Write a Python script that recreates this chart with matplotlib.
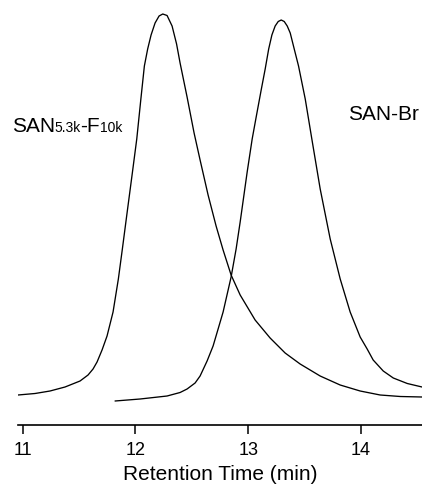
import matplotlib
matplotlib.use("Agg")
import matplotlib.pyplot as plt

plt.rcParams['font.family'] = ['Liberation Sans', 'DejaVu Sans']

# SAN5.3k-F10k trace (retention time in min, detector signal in a.u.)
t_saf = [10.9601, 11.1108, 11.2438, 11.3768, 11.5098, 11.5807, 11.6250, 11.6605,
         11.7048, 11.7491, 11.8023, 11.8493, 11.8848, 11.9229, 11.9743, 12.0124,
         12.0488, 12.0798, 12.1090, 12.1392, 12.1746, 12.2101, 12.2429, 12.2810,
         12.3254, 12.3652, 12.3963, 12.4583, 12.5204, 12.5736, 12.6445, 12.7154,
         12.7775, 12.8484, 12.9287, 13.0612, 13.1941, 13.3271, 13.4601, 13.6374,
         13.8147, 13.9920, 14.1693, 14.3471, 14.5400]
s_saf = [30, 31.5, 34, 38, 44, 50, 56, 63,
         75, 89, 113, 146, 176, 209, 253, 286,
         326, 359, 376, 390, 402, 409, 411, 409.5,
         399, 381, 362, 328, 292, 265, 230, 199,
         175, 150, 130, 105, 87, 72, 61, 49,
         40, 34, 30, 28.5, 28]

# SAN-Br trace
t_sbr = [11.8200, 12.0422, 12.2810, 12.3963, 12.4583, 12.5293, 12.5736, 12.6356,
         12.6888, 12.7332, 12.7775, 12.8484, 12.8928, 12.9287, 12.9908, 13.0351,
         13.0706, 13.1149, 13.1504, 13.1814, 13.2098, 13.2388, 13.2660, 13.2926,
         13.3191, 13.3457, 13.3723, 13.4078, 13.4459, 13.5053, 13.5638, 13.6379,
         13.7266, 13.8152, 13.9034, 13.9920, 14.0541, 14.1073, 14.1965, 14.2855,
         14.4096, 14.5400]
s_sbr = [24, 26, 29, 32.5, 36, 42, 49, 64,
         79, 96, 113, 148, 176, 203, 253, 286,
         308, 335, 356, 376, 390, 399, 403.5, 405,
         403.5, 399, 392, 376, 359, 326, 286, 236,
         186, 146, 113, 88, 76, 65, 54, 47,
         41.5, 38]

xticks = [11, 12, 13, 14]
xlabel = "Retention Time (min)"

W, H = 422, 489
fig = plt.figure(figsize=(W / 100, H / 100), dpi=100)
ax = fig.add_axes([18 / W, (H - 426) / H, 404 / W, 426 / H])

for t, s in [(t_saf, s_saf), (t_sbr, s_sbr)]:
    ax.plot(t, s, color='black', lw=0.95, solid_joinstyle='round',
            solid_capstyle='round')

ax.set_xlim(10.96, 14.54)
ax.set_ylim(0, 426)
for sp in ['left', 'right', 'top']:
    ax.spines[sp].set_visible(False)
ax.spines['bottom'].set_linewidth(1.2)
ax.set_yticks([])
ax.set_xticks(xticks)
ax.set_xticklabels([str(v) for v in xticks], fontsize=13)
ax.tick_params(axis='x', direction='out', length=6.5, width=1.1, pad=5)
ax.set_xlabel(xlabel, fontsize=15, labelpad=4)

# Labels with small inline subscripts sharing the baseline
renderer = fig.canvas.get_renderer()
parts = [("SAN", 15), ("5.3k", 10), ("-F", 15), ("10k", 10)]
x = 12
base = 1 - 132 / H
gaps = [0, -1, 0, 0]
for (txt, fs), g in zip(parts, gaps):
    x += g
    tt = fig.text(x / W, base, txt, fontsize=fs, ha='left', va='baseline')
    bb = tt.get_window_extent(renderer)
    x = bb.x1

fig.text(348 / W, 1 - 120 / H, "SAN-Br", fontsize=15, ha='left', va='baseline')

fig.savefig("out.png", dpi=100)
